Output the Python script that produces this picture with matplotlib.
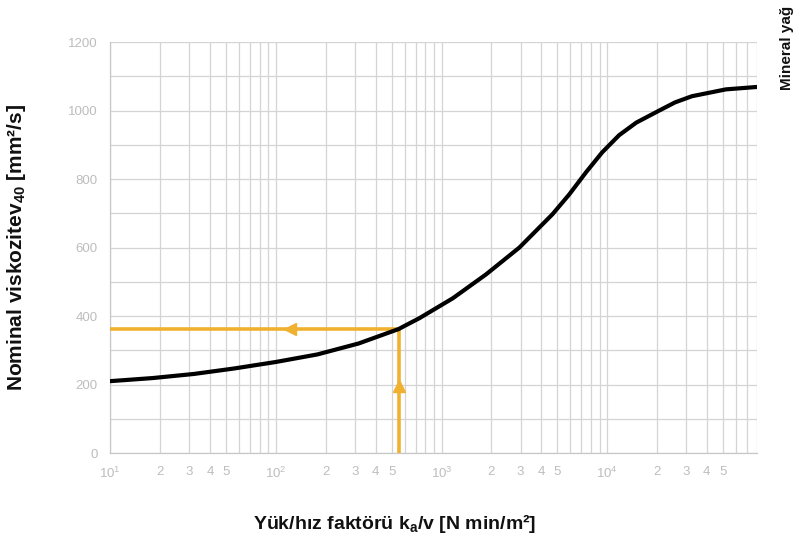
import matplotlib
matplotlib.use("Agg")
import matplotlib.pyplot as plt
from matplotlib.ticker import FixedLocator

plt.rcParams['font.family'] = ['Liberation Sans', 'DejaVu Sans']
plt.rcParams['mathtext.fontset'] = 'custom'
plt.rcParams['mathtext.rm'] = 'Liberation Sans'
plt.rcParams['mathtext.bf'] = 'Liberation Sans:bold'
plt.rcParams['mathtext.it'] = 'Liberation Sans:italic'

# data
load_factor = [10, 18, 32, 56, 100, 178, 316, 550, 736, 1170, 1860, 2950,
               4670, 5900, 7460, 9330, 11800, 15000, 20600, 25700, 32500,
               52100, 80000]
viscosity = [210, 219, 231, 247, 266, 288, 320, 362, 394, 452, 522, 600,
             697, 755, 820, 878, 928, 965, 1000, 1024, 1042, 1062, 1069]

example_x = 550
example_y = 362

x_major = [10, 100, 1000, 10000]
x_major_labels = ['10$^1$', '10$^2$', '10$^3$', '10$^4$']
x_minor_mult = [2, 3, 4, 5]
y_ticks = [0, 200, 400, 600, 800, 1000, 1200]

fig = plt.figure(figsize=(8.05, 5.4), dpi=100)
ax = fig.add_axes([0.137, 0.161, 0.803, 0.761])

ax.set_xscale('log')
ax.set_xlim(10, 80000)
ax.set_ylim(0, 1200)

grid_c = '#d4d4d4'
grid_x = [m * d for d in x_major for m in range(1, 10) if m * d <= 80000]
for gx in grid_x:
    ax.axvline(gx, color=grid_c, lw=0.9, zorder=1)
for gy in range(0, 1201, 100):
    ax.axhline(gy, color=grid_c, lw=0.9, zorder=1)

ax.plot(load_factor, viscosity, color='black', lw=3.0, zorder=4,
        solid_capstyle='round', solid_joinstyle='round')

orange = '#f0b030'
ax.plot([example_x, example_x], [0, example_y], color=orange, lw=2.6, zorder=3)
ax.plot([10, example_x], [example_y, example_y], color=orange, lw=2.6, zorder=3)
ax.plot([122], [example_y], marker='<', color=orange, markersize=9, zorder=3)
ax.plot([example_x], [195], marker='^', color=orange, markersize=9, zorder=3)

ax.xaxis.set_major_locator(FixedLocator(x_major))
ax.set_xticklabels(x_major_labels)
minor_pos = [m * d for d in x_major for m in x_minor_mult]
ax.set_xticks(minor_pos, minor=True)
ax.set_xticklabels([str(m) for d in x_major for m in x_minor_mult], minor=True)
ax.set_yticks(y_ticks)
ax.set_yticklabels([str(v) for v in y_ticks])

lab_c = '#bdbdbd'
ax.tick_params(axis='both', which='both', colors=lab_c, labelcolor=lab_c,
               labelsize=9.5, length=0, pad=9)

for s in ['top', 'right']:
    ax.spines[s].set_visible(False)
for s in ['left', 'bottom']:
    ax.spines[s].set_color('#c8c8c8')
    ax.spines[s].set_linewidth(0.9)

ax.set_xlabel('Yük/hız faktörü k$_{\\mathbf{a}}$/v [N min/m²]', fontsize=14,
              fontweight='bold', color='#111111')
ax.xaxis.set_label_coords(0.44, -0.143)
ax.set_ylabel('Nominal viskozitev$_{\\mathbf{40}}$ [mm²/s]', fontsize=15,
              fontweight='bold', color='#111111')
ax.yaxis.set_label_coords(-0.127, 0.5)

fig.text(0.978, 0.99, 'Mineral yağ', rotation=90, ha='center', va='top',
         fontsize=11, fontweight='bold', color='#111111')

fig.savefig('out.png', dpi=100, facecolor='white')
